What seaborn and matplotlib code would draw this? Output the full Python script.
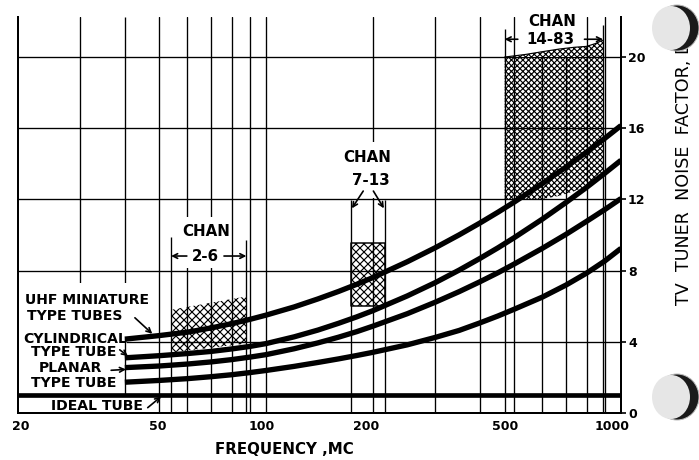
import matplotlib
matplotlib.use("Agg")
import matplotlib.pyplot as plt
from matplotlib.patches import Rectangle, Ellipse
from matplotlib.ticker import NullLocator
from matplotlib.transforms import ScaledTranslation
import pandas as pd
import seaborn as sns

# ---- data -------------------------------------------------------------
freq_mc = [40, 50, 60, 70, 80, 90, 100, 120, 140, 160, 180, 200, 250, 300,
           350, 400, 450, 500, 600, 700, 800, 900, 1000]
noise_uhf_miniature = [4.15, 4.35, 4.54, 4.78, 5.02, 5.26, 5.50, 5.96, 6.41, 6.83,
                       7.23, 7.61, 8.50, 9.29, 10.01, 10.67, 11.28, 11.85, 12.89,
                       13.82, 14.66, 15.43, 16.15]
noise_cylindrical = [3.10, 3.22, 3.34, 3.46, 3.60, 3.74, 3.90, 4.28, 4.66, 5.04,
                     5.40, 5.75, 6.58, 7.33, 8.03, 8.68, 9.28, 9.85, 10.89, 11.83,
                     12.68, 13.47, 14.20]
noise_planar = [2.55, 2.64, 2.75, 2.87, 3.00, 3.14, 3.28, 3.61, 3.94, 4.26,
                4.57, 4.88, 5.58, 6.23, 6.82, 7.37, 7.88, 8.37, 9.25, 10.04,
                10.77, 11.43, 12.05]
noise_planar_type = [1.73, 1.83, 1.93, 2.04, 2.15, 2.27, 2.39, 2.62, 2.84, 3.04,
                     3.23, 3.41, 3.83, 4.25, 4.64, 5.06, 5.45, 5.83, 6.51, 7.19,
                     7.86, 8.54, 9.25]

ideal_freq = [20, 1000]
ideal_noise = [1.0, 1.0]

# channel bands (MC) and the noise-factor ranges they span
chan_2_6_freq = [54, 88]
chan_2_6_low = [3.4, 3.9]
chan_2_6_high = [5.8, 6.55]

chan_7_13_freq = [174, 216]
chan_7_13_low = [6.0, 6.0]
chan_7_13_high = [9.55, 9.55]

chan_14_83_freq = [470, 540, 600, 670, 740, 800, 845, 890]
chan_14_83_low = [12.0, 12.0, 12.02, 12.2, 12.47, 12.75, 13.03, 13.4]
chan_14_83_high = [20.0, 20.15, 20.3, 20.45, 20.55, 20.6, 20.75, 20.95]

x_ticks = [20, 50, 100, 200, 500, 1000]
x_tick_labels = ["20", "50", "100", "200", "500", "1000"]
y_ticks = [0, 4, 8, 12, 16, 20]
grid_freqs = [30, 40, 50, 60, 70, 80, 90, 100, 200, 300, 400, 500, 600, 700, 800, 900]

curves = pd.concat([
    pd.DataFrame({"freq": freq_mc, "noise": vals, "tube": name})
    for name, vals in [("uhf_miniature", noise_uhf_miniature),
                       ("cylindrical", noise_cylindrical),
                       ("planar", noise_planar),
                       ("planar_type", noise_planar_type)]
])

# ---- style ------------------------------------------------------------
sns.set_style("white")
plt.rcParams["font.family"] = ["DejaVu Sans"]
plt.rcParams["hatch.linewidth"] = 0.7

DPI = 120
W, H = 699, 460
fig = plt.figure(figsize=(W / DPI, H / DPI), dpi=DPI)
fig.patch.set_facecolor("white")
ax = fig.add_axes([18 / W, 1 - 413 / H, (621 - 18) / W, (413 - 17) / H])
ax.set_xscale("log")
ax.set_xlim(20, 1000)
ax.set_ylim(0, 22.25)

K = "black"
GRID_LW = 0.8

# grid
for f in grid_freqs:
    if f == 40:
        continue
    ax.axvline(f, color=K, lw=GRID_LW, zorder=1)
ax.vlines(40, 7.3, 22.25, color=K, lw=GRID_LW, zorder=1)
ax.vlines(40, 1.0, 4.2, color=K, lw=GRID_LW, zorder=2)
for v in y_ticks[1:]:
    ax.axhline(v, color=K, lw=GRID_LW, zorder=1)

# channel boundary lines
ax.vlines([54, 88], 0, [9.9, 9.7], color=K, lw=GRID_LW, zorder=1)
ax.vlines([174, 216], 0, [11.95, 11.95], color=K, lw=GRID_LW, zorder=1)
ax.vlines([470, 890], 0, [21.6, 21.8], color=K, lw=GRID_LW, zorder=1)

# white areas behind the lettering
for (f0, f1, v0, v1) in [(20, 40.6, 0, 7.3),
                         (57.2, 78.8, 8.15, 11.0),
                         (166, 232, 12.1, 15.25),
                         (519, 790, 20.0, 22.25)]:
    ax.add_patch(Rectangle((f0, v0), f1 - f0, v1 - v0, facecolor="white",
                           edgecolor="none", zorder=1.5))

# hatched channel bands
ax.fill_between(chan_2_6_freq, chan_2_6_low, chan_2_6_high, hatch="xxxxx",
                facecolor="none", edgecolor=K, linewidth=0, zorder=2)
ax.fill_between(chan_7_13_freq, chan_7_13_low, chan_7_13_high, hatch="xxxxx",
                facecolor="none", edgecolor=K, linewidth=0.9, zorder=2)
ax.fill_between(chan_14_83_freq, chan_14_83_low, chan_14_83_high, hatch="xxxxxxx",
                facecolor="none", edgecolor=K, linewidth=0, zorder=2)
ax.plot(chan_14_83_freq, chan_14_83_high, color=K, lw=0.7, zorder=2)

# noise-factor curves
sns.lineplot(data=curves, x="freq", y="noise", units="tube", estimator=None,
             color=K, linewidth=3.2, legend=False, ax=ax, zorder=4,
             solid_capstyle="butt", solid_joinstyle="round")
sns.lineplot(x=ideal_freq, y=ideal_noise, color=K, linewidth=2.8, ax=ax,
             zorder=4, solid_capstyle="butt")

# axes, ticks
for side in ["left", "right", "bottom"]:
    ax.spines[side].set_visible(True)
    ax.spines[side].set_color(K)
    ax.spines[side].set_linewidth(1.2)
ax.spines["top"].set_visible(False)
ax.yaxis.tick_right()
ax.set_yticks(y_ticks)
ax.set_yticklabels([str(v) for v in y_ticks])
ax.set_xticks(x_ticks)
ax.set_xticklabels(x_tick_labels)
ax.xaxis.set_minor_locator(NullLocator())
ax.tick_params(axis="y", which="both", direction="out", length=3, width=1,
               pad=1.2, labelsize=7.5, colors=K, left=False, right=True)
ax.tick_params(axis="x", which="both", length=0, pad=4.5, labelsize=7.5,
               colors=K)
for lab in ax.get_xticklabels() + ax.get_yticklabels():
    lab.set_fontweight("bold")
# hand-lettered frequency labels sit a little left of their lines
for lab, dx in zip(ax.get_xticklabels(), [3, -1, -4, -7, -9, -9]):
    lab.set_transform(lab.get_transform() +
                      ScaledTranslation(dx / DPI, 0, fig.dpi_scale_trans))
ax.set_ylabel("")
ax.set_xlabel("FREQUENCY ,MC", fontsize=9, fontweight="bold", color=K)
ax.xaxis.set_label_coords((284 - 18) / 603, -(449 - 413) / 396)
ax.xaxis.label.set_va("center")

# curve labels
lab_kw = dict(fontsize=8.4, fontweight="bold", color=K, va="center",
              ha="left", zorder=5)
ax.text(20.9, 6.35, "UHF MINIATURE", **lab_kw)
ax.text(21.2, 5.45, "TYPE TUBES", **lab_kw)
ax.text(20.65, 4.16, "CYLINDRICAL", **lab_kw)
ax.text(21.8, 3.43, "TYPE TUBE", **lab_kw)
ax.text(22.9, 2.53, "PLANAR", **lab_kw)
ax.text(21.8, 1.69, "TYPE TUBE", **lab_kw)
ax.text(24.7, 0.39, "IDEAL TUBE", **lab_kw)

arr = dict(arrowstyle="->", lw=1.0, color=K, shrinkA=0, shrinkB=0,
           mutation_scale=7)
ax.annotate("", xy=(47.8, 4.45), xytext=(42.7, 5.35), arrowprops=arr, zorder=5)
ax.annotate("", xy=(40.8, 3.2), xytext=(38.7, 3.55), arrowprops=arr, zorder=5)
ax.annotate("", xy=(40.3, 2.45), xytext=(36.6, 2.4), arrowprops=arr, zorder=5)
ax.annotate("", xy=(50.6, 0.92), xytext=(46.4, 0.3), arrowprops=arr, zorder=5)

# channel labels
ch_kw = dict(fontsize=9, fontweight="bold", color=K, ha="center",
             va="center", zorder=5)
ax.text(67.7, 10.22, "CHAN", **ch_kw)
ax.text(67.3, 8.82, "2-6", **ch_kw)
ax.annotate("", xy=(54, 8.82), xytext=(59.8, 8.82), arrowprops=arr, zorder=5)
ax.annotate("", xy=(88, 8.82), xytext=(76.1, 8.82), arrowprops=arr, zorder=5)

ax.text(192.8, 14.33, "CHAN", **ch_kw)
ax.text(197.6, 13.09, "7-13", **ch_kw)
ax.annotate("", xy=(174.5, 11.5), xytext=(187.8, 12.47), arrowprops=arr, zorder=5)
ax.annotate("", xy=(214.8, 11.5), xytext=(200.6, 12.47), arrowprops=arr, zorder=5)

ax.text(638, 21.97, "CHAN", **ch_kw)
ax.text(634, 21.0, "14-83", **ch_kw)
ax.annotate("", xy=(470, 21.0), xytext=(512, 21.0), arrowprops=arr, zorder=5)
ax.annotate("", xy=(890, 21.0), xytext=(789, 21.0), arrowprops=arr, zorder=5)

# right-hand axis title
fig.text(684 / W, 1 - 305 / H, "TV  TUNER  NOISE  FACTOR, DB", rotation=90,
         ha="center", va="bottom", fontsize=10.5, color=K)

# binder holes
for cy in (28, 397):
    fig.add_artist(Ellipse((677 / W, 1 - cy / H), 44 / W, 46 / H,
                           transform=fig.transFigure, facecolor="#1a1a1a",
                           edgecolor="#bbbbbb", lw=0.6, zorder=10))
    fig.add_artist(Ellipse((671 / W, 1 - cy / H), 38 / W, 44 / H,
                           transform=fig.transFigure, facecolor="#e6e6e6",
                           edgecolor="none", zorder=11))

fig.savefig("out.png", dpi=DPI, facecolor="white")
